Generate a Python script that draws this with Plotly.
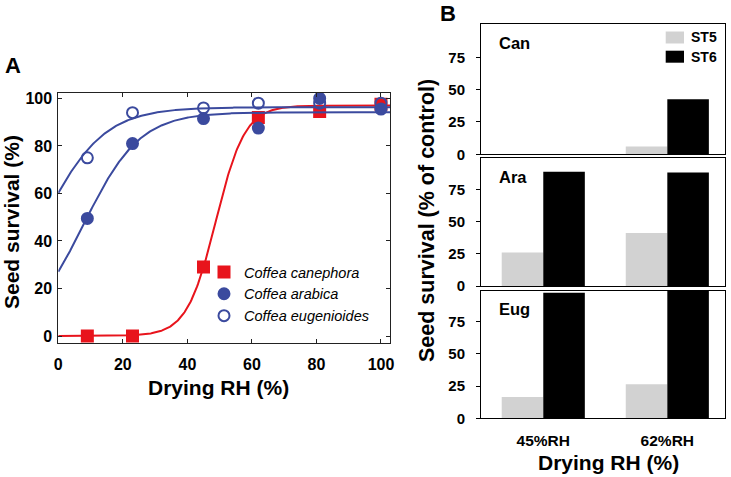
import numpy as np
import plotly.graph_objects as go

# ---------------- Panel A data ----------------
rh_levels = [9, 23, 45, 62, 81, 100]
canephora = [0, 0, 29, 92, 94.5, 97.5]
arabica = [49.5, 81, 91.5, 87.5, 100, 95.5]
eugenioides = [75, 94, 96, 98, 98, 98]

# logistic fit parameters (asymptote, midpoint, scale)
fit_canephora = [97.0, 48.85, 4.5]
fit_arabica = [94.2, 7.9, 8.7]
fit_eugenioides = [96.3, -4.8, 9.4]

species_names = ["Coffea canephora", "Coffea arabica", "Coffea eugenioides"]

# ---------------- Panel B data ----------------
rh_categories = ["45%RH", "62%RH"]
panel_names = ["Can", "Ara", "Eug"]
st5_values = {"Can": [0, 6], "Ara": [26, 41], "Eug": [16.5, 26.5]}
st6_values = {"Can": [0, 42.5], "Ara": [88.5, 88], "Eug": [97.5, 100]}
b_ticks = [0, 25, 50, 75]
a_xticks = [0, 20, 40, 60, 80, 100]
a_yticks = [0, 20, 40, 60, 80, 100]

RED = "#E8141C"
BLUE = "#3B4A9E"
GRAY = "#D2D2D2"
FONT = "Liberation Sans"

W, H = 731, 477


def px(x):
    return x / W


def py(y):
    return 1 - y / H


def logistic(x, p):
    a, x0, b = p
    return a / (1 + np.exp(-(x - x0) / b))


fig = go.Figure()

xs = np.linspace(0, 102.8, 400)
series = [
    (canephora, fit_canephora, RED, "square", RED, 11),
    (arabica, fit_arabica, BLUE, "circle", BLUE, 11),
    (eugenioides, fit_eugenioides, BLUE, "circle-open", BLUE, 11),
]
for (vals, fit, col, sym, mcol, msize), name in zip(series, species_names):
    fig.add_trace(go.Scatter(x=xs, y=logistic(xs, fit), mode="lines",
                             line=dict(color=col, width=2), showlegend=False,
                             hoverinfo="skip", xaxis="x", yaxis="y"))
    fig.add_trace(go.Scatter(x=rh_levels, y=vals, mode="markers", name=name,
                             marker=dict(symbol=sym, size=msize, color=mcol,
                                         line=dict(color=mcol, width=2)),
                             xaxis="x", yaxis="y", legend="legend"))

# Panel B bars
for i, pn in enumerate(panel_names):
    xa = "x%d" % (i + 2)
    ya = "y%d" % (i + 2)
    fig.add_trace(go.Bar(x=rh_categories, y=st5_values[pn], name="ST5",
                         marker=dict(color=GRAY, line=dict(width=0)),
                         xaxis=xa, yaxis=ya, showlegend=False))
    fig.add_trace(go.Bar(x=rh_categories, y=st6_values[pn], name="ST6",
                         marker=dict(color="black", line=dict(width=0)),
                         xaxis=xa, yaxis=ya, showlegend=False))

bold_tick = dict(family=FONT, size=16, color="black", weight="bold")

layout = dict(
    width=W, height=H,
    margin=dict(l=0, r=0, t=0, b=0, autoexpand=False),
    paper_bgcolor="white", plot_bgcolor="white",
    barmode="group", bargap=0.33, bargroupgap=0,
    xaxis=dict(domain=[px(58.3), px(390)], range=[0, 102.8], tickvals=a_xticks,
               ticks="inside", ticklen=4, tickcolor="#222", mirror="ticks",
               showline=True, linecolor="#222", linewidth=1, showgrid=False,
               zeroline=False, tickfont=bold_tick, ticklabelstandoff=6,
               anchor="y", automargin=False),
    yaxis=dict(domain=[py(343.3), py(92.7)], range=[-3.07, 102.4], tickvals=a_yticks,
               ticks="inside", ticklen=4, tickcolor="#222", mirror="ticks",
               showline=True, linecolor="#222", linewidth=1, showgrid=False,
               zeroline=False, tickfont=bold_tick, ticklabelstandoff=2,
               anchor="x", automargin=False),
    legend=dict(x=px(204), y=py(294), xanchor="left", yanchor="middle",
                bgcolor="rgba(0,0,0,0)",
                font=dict(family=FONT, size=14.5, color="black", style="italic"),
                tracegroupgap=0, itemwidth=30),
)

b_domains = [(24.3, 154.3), (158.3, 286), (290.7, 418.3)]
b_ranges = [[0, 100.5], [0, 99], [0, 99]]
for i, ((top, bot), rng) in enumerate(zip(b_domains, b_ranges)):
    n = i + 2
    layout["xaxis%d" % n] = dict(
        domain=[px(481), px(725)], range=[-0.502, 1.465], type="category",
        showline=True, mirror=True, linecolor="black", linewidth=1,
        ticks="", showgrid=False, zeroline=False, anchor="y%d" % n,
        showticklabels=(i == 2), ticklabelstandoff=8, automargin=False,
        tickfont=dict(family=FONT, size=15.5, color="black", weight="bold"))
    layout["yaxis%d" % n] = dict(
        domain=[py(bot), py(top)], range=rng, tickvals=b_ticks,
        ticks="outside", ticklen=4, tickcolor="black",
        showline=True, mirror=True, linecolor="black", linewidth=1,
        showgrid=False, zeroline=False, anchor="x%d" % n, ticklabelstandoff=8,
        automargin=False,
        tickfont=dict(family=FONT, size=15, color="black", weight="bold"))

fig.update_layout(**layout)

ann = []


def add_text(text, x, y, size, angle=0, style="normal", xanchor="center"):
    ann.append(dict(text=text, x=px(x), y=py(y), xref="paper", yref="paper",
                    showarrow=False, textangle=angle, xanchor=xanchor, yanchor="middle",
                    font=dict(family=FONT, size=size, color="black", weight="bold",
                              style=style)))


add_text("A", 13, 66, 22)
add_text("B", 448, 14, 22)
add_text("Seed survival (%)", 11, 222, 21, angle=-90)
add_text("Drying RH (%)", 218, 387, 21)
add_text("Seed survival (% of control)", 427, 221, 21.5, angle=-90)
add_text("Drying RH (%)", 608, 462, 21)
panel_label_y = [43, 177, 309]
for pn, yy in zip(panel_names, panel_label_y):
    add_text(pn, 496.5, yy, 16.5, xanchor="left")

# manual legend for panel B
shapes = []
for lab, col, yc in [("ST5", GRAY, 37.5), ("ST6", "black", 56.7)]:
    shapes.append(dict(type="rect", xref="paper", yref="paper",
                       x0=px(665.7), x1=px(684), y0=py(yc + 6), y1=py(yc - 6),
                       fillcolor=col, line=dict(width=0)))
    add_text(lab, 689, yc, 14, xanchor="left")

fig.update_layout(annotations=ann, shapes=shapes)

# remove the default 8px page margin so the 731x477 figure fills the window
fig.write_html("out.html",
               config={"displayModeBar": False},
               post_script="document.body.style.margin='0px';"
                           "document.body.style.overflow='hidden';")
